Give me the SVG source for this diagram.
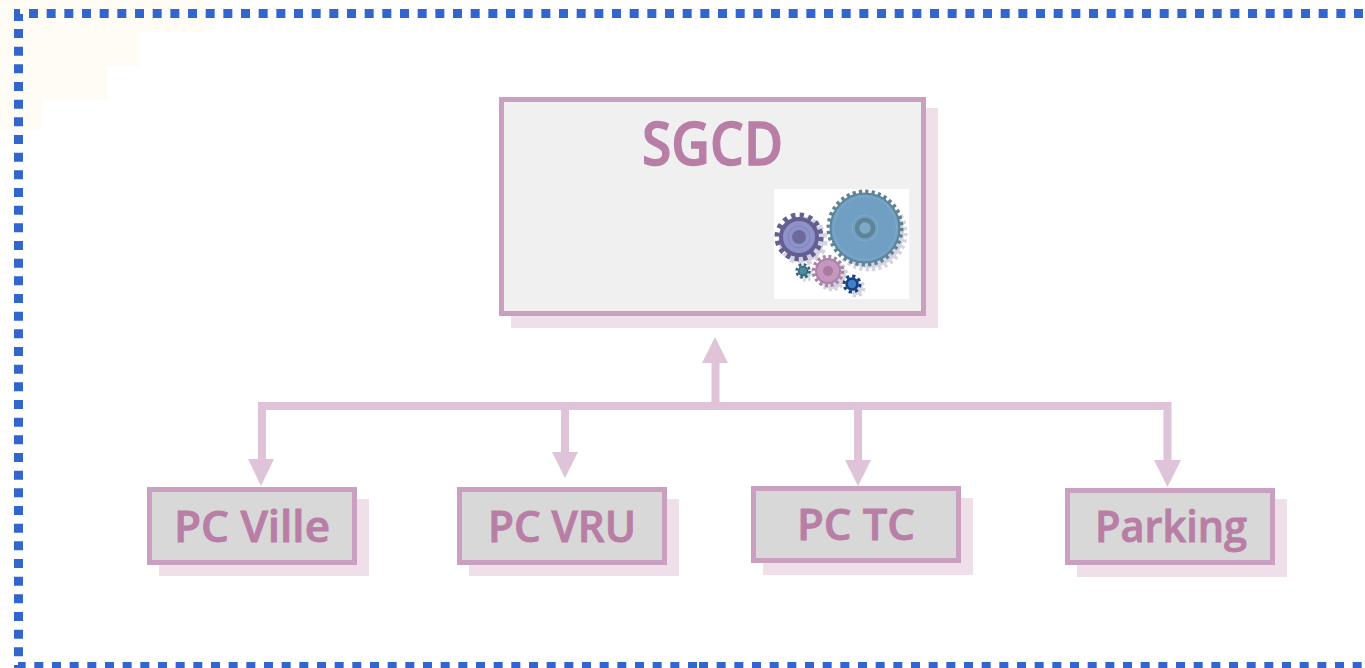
<svg xmlns="http://www.w3.org/2000/svg" width="1365" height="668" viewBox="0 0 1365 668">
<style>
.bd{fill:none;stroke:#3366cc;stroke-width:9;stroke-dasharray:9 8.667}
.sh{fill:#eedfe9}
.box{stroke:#c9a0bf;stroke-width:5}
.g1{fill:#d8d8d8}
.t{font-family:"Open Sans","Noto Sans","DejaVu Sans",sans-serif;font-weight:600;fill:#b87ea6;stroke:#b87ea6;stroke-width:0.9}
.c{fill:none;stroke:#dfc3d8;stroke-width:8}
.h{fill:#dfc3d8}
.gs{fill:#d5d3e2}
</style>
<defs>
<filter id="b" x="-10%" y="-10%" width="120%" height="120%"><feGaussianBlur stdDeviation="0.6"/></filter>
</defs>
<rect width="1365" height="668" fill="#fff"/>
<g id="tint">
<path d="M0 0H205V32H140V66H107V100H42V130H0Z" fill="#fffcf6"/>
</g>
<g id="border">
<line class="bd" x1="29" y1="13.500" x2="1365" y2="13.500"/>
<line class="bd" x1="18.500" y1="29" x2="18.500" y2="668"/>
<rect x="14" y="9" width="6" height="9" fill="#3366cc"/>
<rect x="14" y="14" width="9" height="7" fill="#3366cc"/>
<line class="bd" x1="697" y1="666.500" x2="18" y2="666.500"/>
<line class="bd" x1="699" y1="666.500" x2="1365" y2="666.500"/>
</g>
<g id="connectors">
<path class="c" d="M262 460V406H1167.500V461"/>
<path class="c" d="M565 453V406M858 461V406M715.500 406V362"/>
<path class="h" d="M248 459H274L261 486Z"/>
<path class="h" d="M552 452H578L565 478Z"/>
<path class="h" d="M845 460H871L858 486Z"/>
<path class="h" d="M1154 460H1181L1167.500 487Z"/>
<path class="h" d="M702 363H728L715 337Z"/>
</g>
<g id="sgcd">
<rect class="sh" x="511" y="108" width="427" height="220"/>
<rect class="box" x="501.500" y="99.500" width="422" height="214" fill="#f0f0f0"/>
<text class="t" x="642" y="165" font-size="59" textLength="141" lengthAdjust="spacingAndGlyphs" style="stroke-width:1.300">SGCD</text>
<g id="gears" filter="url(#b)">
<rect x="774" y="189" width="135" height="110" fill="#fff"/>
<g fill="none" stroke="#d5d3e2">
<circle cx="869" cy="233" r="36.500" stroke-width="4" stroke-dasharray="3.200 3.170"/>
<circle cx="803" cy="241" r="22" stroke-width="5" stroke-dasharray="4.320 4.320"/>
<circle cx="832" cy="275" r="14.500" stroke-width="3.500" stroke-dasharray="2.850 2.850"/>
<circle cx="856" cy="288" r="8" stroke-width="3" stroke-dasharray="3.140 3.140"/>
<circle cx="806" cy="274" r="6.500" stroke-width="2.500" stroke-dasharray="2.550 2.550"/>
</g>
<circle class="gs" cx="869" cy="233" r="35"/>
<circle class="gs" cx="803" cy="241" r="21"/>
<circle class="gs" cx="832" cy="275" r="14"/>
<circle class="gs" cx="856" cy="288" r="7"/>
<circle class="gs" cx="806" cy="274" r="5"/>
<circle cx="865" cy="228" r="36.500" fill="none" stroke="#5d8496" stroke-width="4" stroke-dasharray="3.200 3.170"/>
<circle cx="865" cy="228" r="34.500" fill="#6f9fc3" stroke="#5d8496" stroke-width="2"/>
<circle cx="865" cy="228" r="31.500" fill="none" stroke="#86adcc" stroke-width="0.800"/>
<circle cx="865" cy="228" r="13" fill="none" stroke="#86adcc" stroke-width="0.800"/>
<circle cx="865" cy="228" r="8" fill="#7ea8c8" stroke="#5e8498" stroke-width="4.500"/>
<circle cx="799" cy="237" r="22" fill="none" stroke="#645e93" stroke-width="5" stroke-dasharray="4.320 4.320"/>
<circle cx="799" cy="237" r="18" fill="#8f92c9" stroke="#645e93" stroke-width="4"/>
<circle cx="799" cy="237" r="11" fill="none" stroke="#7c7fb8" stroke-width="0.800"/>
<circle cx="799" cy="237" r="7" fill="#6c6a9d"/>
<circle cx="828" cy="271" r="14.500" fill="none" stroke="#a883a3" stroke-width="3.500" stroke-dasharray="2.850 2.850"/>
<circle cx="828" cy="271" r="12" fill="#c597c0" stroke="#a883a3" stroke-width="2"/>
<circle cx="828" cy="271" r="5" fill="#a87aa0"/>
<circle cx="803" cy="271" r="6.500" fill="none" stroke="#2f6478" stroke-width="2.500" stroke-dasharray="2.550 2.550"/>
<circle cx="803" cy="271" r="4.500" fill="#4a8c9c" stroke="#2f6478" stroke-width="1.500"/>
<circle cx="852" cy="284" r="8" fill="none" stroke="#173f86" stroke-width="3" stroke-dasharray="3.140 3.140"/>
<circle cx="852" cy="284" r="5.500" fill="#3f80c4" stroke="#173f86" stroke-width="2.500"/>
</g>
</g>
<g id="pc-ville">
<rect class="sh" x="159" y="499" width="210" height="77"/>
<rect class="box g1" x="149.500" y="489.500" width="205" height="73"/>
<text class="t" x="174" y="542" font-size="44" textLength="156" lengthAdjust="spacingAndGlyphs">PC Ville</text>
</g>
<g id="pc-vru">
<rect class="sh" x="469" y="499" width="210" height="77"/>
<rect class="box g1" x="459.500" y="489.500" width="205" height="73"/>
<text class="t" x="488" y="542" font-size="44" textLength="148" lengthAdjust="spacingAndGlyphs">PC VRU</text>
</g>
<g id="pc-tc">
<rect class="sh" x="763" y="498" width="210" height="77"/>
<rect class="box g1" x="753.500" y="488.500" width="205" height="72"/>
<text class="t" x="797" y="540" font-size="44" textLength="118" lengthAdjust="spacingAndGlyphs">PC TC</text>
</g>
<g id="parking">
<rect class="sh" x="1077" y="499" width="210" height="78"/>
<rect class="box g1" x="1067.500" y="490.500" width="205" height="72"/>
<text class="t" x="1095" y="542" font-size="44" textLength="152" lengthAdjust="spacingAndGlyphs">Parking</text>
</g>
</svg>
